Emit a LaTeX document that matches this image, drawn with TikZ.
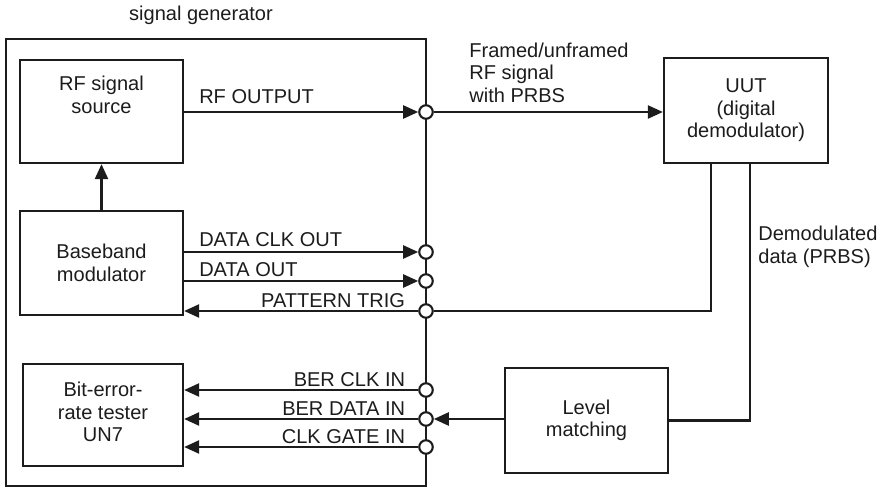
\documentclass[tikz,border=0pt]{standalone}
\usepackage{fontspec}
\setmainfont{Liberation Sans}
\usetikzlibrary{arrows.meta,calc,positioning}
\newcommand{\sgfont}{\fontsize{11.4pt}{12.8pt}\selectfont}
\definecolor{sgink}{HTML}{1C1C1C}
\tikzset{
  sgblock/.style={draw=sgink,line width=1.3pt,align=center,inner sep=0pt,
    text=sgink,font=\sgfont},
  sgport/.style={draw=sgink,circle,fill=white,line width=1.2pt,
    minimum size=0.27cm,inner sep=0pt},
  sgline/.style={draw=sgink,line width=1.3pt},
  sgarrow/.style={sgline,-{Triangle[length=0.3cm,width=0.26cm]}},
  sglabel/.style={font=\sgfont,text=sgink,inner sep=0pt},
}

\begin{document}
\begin{tikzpicture}[x=0.02cm,y=-0.02cm]
        \path[use as bounding box] (0,0) rectangle (878,489);
        \node[sglabel] (title) at (201,15) {signal generator};
        \node[sgblock,minimum width=8.4cm,minimum height=8.94cm] (sg) at (216,262.5) {};
        \node[sgblock,minimum width=3.26cm,minimum height=2.06cm] (rf) at (101.5,111.5) {RF signal\\source\\[6pt]};
        \node[sgblock,minimum width=3.26cm,minimum height=2.08cm] (bb) at (101.5,263) {Baseband\\modulator};
        \node[sgblock,minimum width=3.2cm,minimum height=2.04cm] (ber) at (103,415) {\\[-8pt]Bit-error-\\rate tester\\UN7};
        \node[sgblock,minimum width=3.28cm,minimum height=2.1cm] (uut) at (746,110.5) {UUT\\(digital\\demodulator)};
        \node[sgblock,minimum width=3.26cm,minimum height=2.1cm] (lvl) at (586.5,420.5) {Level\\matching};
        \foreach \n/\y in {1/112,2/252,3/281,4/311,5/390,6/419,7/447}
          {\node[sgport] (p\n) at (426,\y) {};}
        % signal generator outputs
        \draw[sgarrow] (bb) -- (rf);
        \draw[sgarrow] (rf.east |- p1) -- node[sglabel,pos=0,anchor=base west,xshift=0.28cm,yshift=0.16cm] {RF OUTPUT} (p1);
        \draw[sgarrow] (bb.east |- p2) -- node[sglabel,pos=0,anchor=base west,xshift=0.28cm,yshift=0.1cm] {DATA CLK OUT} (p2);
        \draw[sgarrow] (bb.east |- p3) -- node[sglabel,pos=0,anchor=base west,xshift=0.28cm,yshift=0.1cm] {DATA OUT} (p3);
        \draw[sgarrow] (p4) -- node[sglabel,pos=0,anchor=base east,xshift=-0.24cm,yshift=0.08cm] {PATTERN TRIG} (bb.east |- p4);
        \foreach \p/\t in {p5/BER CLK IN,p6/BER DATA IN,p7/CLK GATE IN}
          {\draw[sgarrow] (\p) -- node[sglabel,pos=0,anchor=base east,xshift=-0.24cm,yshift=0.08cm] {\t} (ber.east |- \p);}
        % external path
        \draw[sgarrow] (p1) -- (uut.west |- p1);
        \node[sglabel,align=left,anchor=south west] (rfsig) at (469,103) {Framed/unframed\\RF signal\\with PRBS};
        \draw[sgline] ([xshift=-0.7cm]uut.south) |- (p4);
        \draw[sgline] ([xshift=0.08cm]uut.south) |- (lvl.east);
        \node[sglabel,align=left,anchor=north west] (demod) at (758,226) {Demodulated\\data (PRBS)};
        \draw[sgarrow] (lvl.west |- p6) -- (p6);
      \end{tikzpicture}
\end{document}
